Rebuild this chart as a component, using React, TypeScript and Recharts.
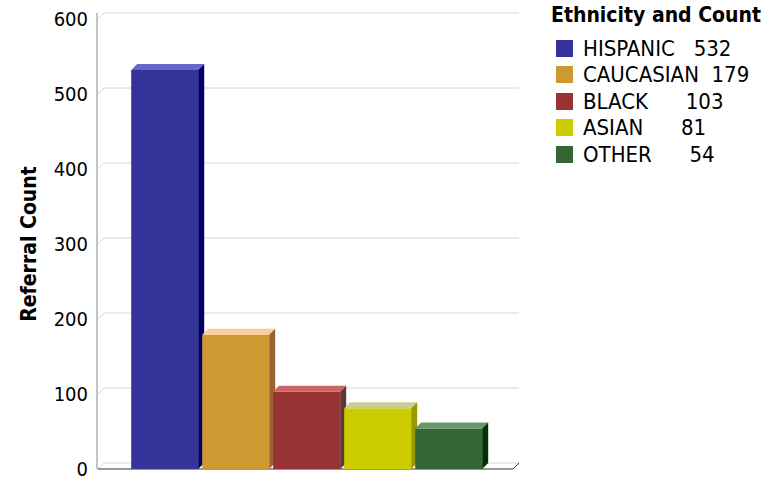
import React from 'react'
import { BarChart, Bar, XAxis, YAxis, CartesianGrid, Legend, Label } from 'recharts'

const categories = ['HISPANIC', 'CAUCASIAN', 'BLACK', 'ASIAN', 'OTHER']
const counts = [532, 179, 103, 81, 54]
const yTicks = [0, 100, 200, 300, 400, 500, 600]

const rows = [Object.fromEntries([['name', 'Referrals'], ...categories.map((c, i) => [c, counts[i]])])]

const faces = [
  { front: '#333399', top: '#6666cc', side: '#000066' },
  { front: '#cc9933', top: '#ffcc99', side: '#996633' },
  { front: '#993333', top: '#cc6666', side: '#663333' },
  { front: '#cccc00', top: '#cccc99', side: '#999900' },
  { front: '#336633', top: '#669966', side: '#003300' },
]

const FONT = '"DejaVu Sans Condensed", "DejaVu Sans", sans-serif'
const D = 6 // depth of the 3d effect

const makeBar3D = (c: { front: string; top: string; side: string }) => (p: any) => {
  const { x, y, width: w, height: h } = p
  if (w == null || h == null || h <= 0) return null
  return (
    <g>
      <rect x={x} y={y} width={w} height={h} fill={c.front} />
      <polygon
        points={`${x},${y} ${x + D},${y - D} ${x + w + D},${y - D} ${x + w},${y}`}
        fill={c.top}
      />
      <polygon
        points={`${x + w},${y} ${x + w + D},${y - D} ${x + w + D},${y + h - D} ${x + w},${y + h}`}
        fill={c.side}
      />
    </g>
  )
}

const gridLine = (p: any) => {
  const { x1, x2, y1 } = p
  const isFloor = Math.abs(y1 - (p.y + p.height)) < 1
  return (
    <g key={p.key}>
      <path
        d={`M${x1},${y1} L${x1 + D},${y1 - D} L${x2 + D},${y1 - D}`}
        stroke="#d6d6d6"
        strokeWidth={1}
        fill="none"
      />
      {isFloor && (
        <path d={`M${x1},${y1} L${x2},${y1} L${x2 + D},${y1 - D}`} stroke="#333" strokeWidth={1} fill="none" />
      )}
    </g>
  )
}

const wallLine = (p: any) => (
  <line key={p.key} x1={p.x1 - 1} x2={p.x1 - 1} y1={p.y1 - D} y2={p.y2} stroke="#888" strokeWidth={1} />
)

const renderLegend = (props: any) => {
  const payload = [...(props.payload || [])].sort(
    (a: any, b: any) => categories.indexOf(a.value) - categories.indexOf(b.value)
  )
  return (
    <div style={{ fontFamily: FONT, color: '#000' }}>
      <div style={{ fontWeight: 'bold', fontSize: 21, lineHeight: '26px', marginBottom: 7 }}>
        Ethnicity and Count
      </div>
      {payload.map((entry: any) => (
        <div key={entry.value} style={{ display: 'flex', alignItems: 'center', height: 26.5, fontSize: 22 }}>
          <span style={{ width: 17, height: 17, background: entry.color, marginLeft: 5, marginRight: 10 }} />
          <span style={{ whiteSpace: 'pre' }}>
            {String(entry.value).padEnd(11) + counts[categories.indexOf(entry.value)]}
          </span>
        </div>
      ))}
    </div>
  )
}

export default function App() {
  return (
    <div style={{ position: 'absolute', left: 0, top: 0, background: '#fff' }}>
      <BarChart
        width={776}
        height={478}
        data={rows}
        margin={{ top: 19, right: 263, bottom: 9, left: 0 }}
        barCategoryGap="8%"
        barGap={4}
      >
        <CartesianGrid
          horizontal={gridLine}
          vertical={wallLine}
          verticalCoordinatesGenerator={({ offset }: any) => [offset.left]}
        />
        <XAxis dataKey="name" hide />
        <YAxis
          width={98}
          domain={[0, 600]}
          ticks={yTicks}
          interval={0}
          axisLine={false}
          tickLine={false}
          tickMargin={4}
          tick={{ fill: '#000', fontSize: 20, fontFamily: FONT }}
        >
          <Label
            value="Referral Count"
            angle={-90}
            position="center"
            dx={-20}
            style={{ fontFamily: FONT, fontSize: 21, fontWeight: 'bold', fill: '#000' }}
          />
        </YAxis>
        <Legend
          layout="horizontal"
          verticalAlign="middle"
          align="center"
          content={renderLegend}
          wrapperStyle={{ left: 551, top: 2, width: 225 }}
        />
        {categories.map((c, i) => (
          <Bar
            key={c}
            dataKey={c}
            name={c}
            fill={faces[i].front}
            shape={makeBar3D(faces[i])}
            isAnimationActive={false}
          />
        ))}
      </BarChart>
    </div>
  )
}
